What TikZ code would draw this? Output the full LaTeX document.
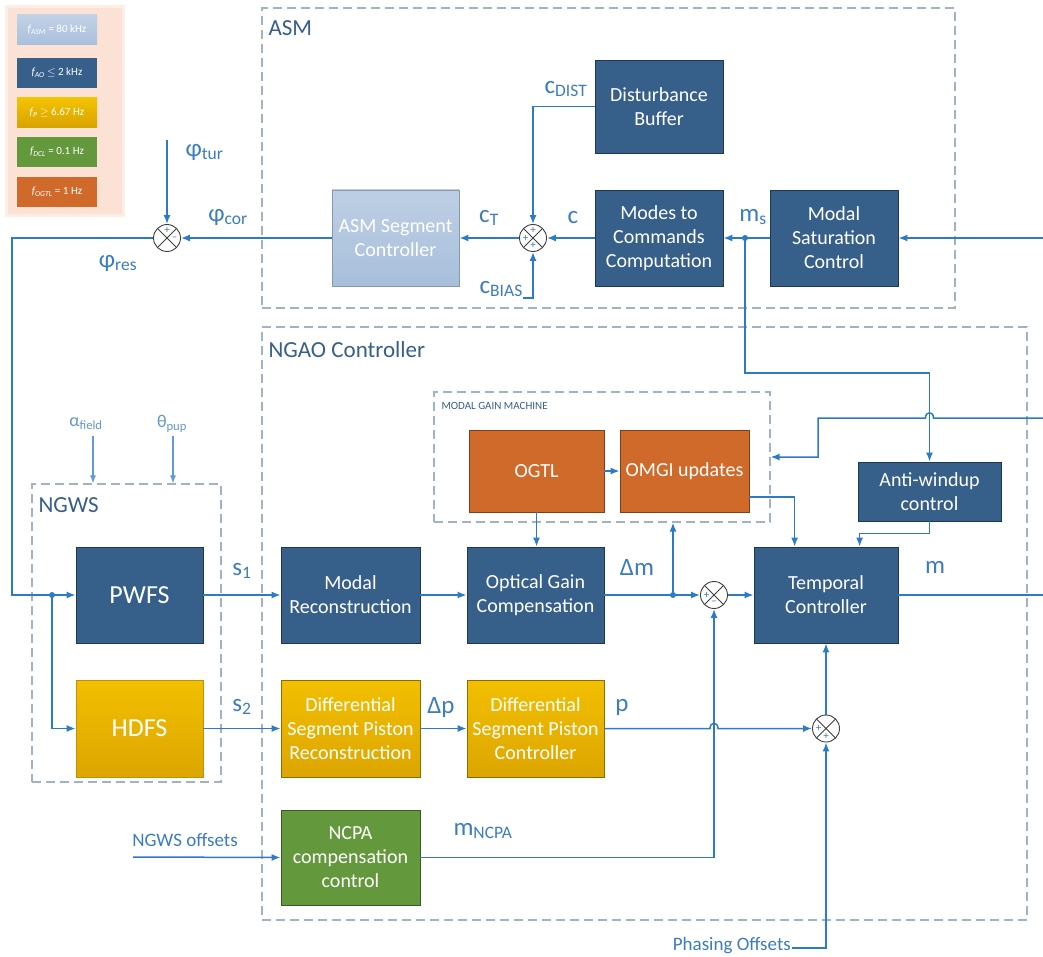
\documentclass[tikz,border=0pt]{standalone}
\usepackage{fontspec}
\setmainfont{Carlito}
\usetikzlibrary{arrows.meta,calc}
\definecolor{dblue}{RGB}{54,95,138}
\definecolor{dblueb}{RGB}{30,55,85}
\definecolor{lblue}{RGB}{168,191,219}
\definecolor{orng}{RGB}{208,106,43}
\definecolor{yell}{RGB}{240,180,0}
\definecolor{grn}{RGB}{100,152,60}
\definecolor{lineblue}{RGB}{43,123,198}
\definecolor{labblue}{RGB}{60,124,192}
\definecolor{dashgray}{RGB}{160,178,198}
\definecolor{peach}{RGB}{251,226,212}
\tikzset{
  blk/.style={draw=dblueb, line width=0.8pt, fill=#1, text=white, align=center,
    inner sep=2pt, font=\fontsize{20}{24}\selectfont},
  conn/.style={draw=lineblue, line width=1.5pt, -{Latex[length=9pt,width=7pt]}},
  wire/.style={draw=lineblue, line width=1.5pt},
  thinconn/.style={draw=lineblue!75, line width=1.1pt, -{Latex[length=8pt,width=6pt]}},
  grp/.style={draw=dashgray, line width=1.2pt, dash pattern=on 9pt off 5pt},
  grplab/.style={text=dblue, anchor=west, font=\fontsize{23}{26}\selectfont},
  lab/.style={text=labblue, font=\fontsize{25}{28}\selectfont},
  sgn/.style={text=labblue, font=\fontsize{11}{11}\selectfont, inner sep=0pt},
  sumj/.style={circle, draw=black!75, fill=white, line width=0.9pt, minimum size=27pt, inner sep=0pt,
    path picture={\draw[black!75, line width=0.9pt]
      (path picture bounding box.north west) -- (path picture bounding box.south east)
      (path picture bounding box.north east) -- (path picture bounding box.south west);}},
  dot/.style={circle, fill=lineblue, minimum size=6pt, inner sep=0pt},
  legbox/.style={draw=none, text=white, minimum width=80pt, minimum height=30pt,
    font=\fontsize{11}{12}\selectfont, inner sep=0pt}
}
\newcommand{\fsub}[1]{{\itshape f}\textsubscript{\itshape #1}}
\begin{document}
\begin{tikzpicture}[x=1pt,y=-1pt]
\useasboundingbox (0,0) rectangle (1043,957);
\fill[white] (0,0) rectangle (1043,957);

% legend
\fill[peach!60] (5,5) rectangle (125,217);
\fill[peach] (8,8) rectangle (122,214);
\node[legbox, top color=lblue!70!white, bottom color=lblue] (l1) at (57,30) {\fsub{ASM} = 80 kHz};
\node[legbox, fill=dblue] (l2) at (57,73) {\fsub{AO} $\leq$ 2 kHz};
\node[legbox, top color=yell!80!yellow, bottom color=yell!90!black] (l3) at (57,113) {\fsub{P} $\geq$ 6.67 Hz};
\node[legbox, fill=grn] (l4) at (57,152) {\fsub{DCL} = 0.1 Hz};
\node[legbox, fill=orng] (l5) at (57,192) {\fsub{OGTL} = 1 Hz};

% groups
\node[grp, minimum width=693pt, minimum height=300pt, inner sep=0pt] (asm) at (608.5,158) {};
\node[grplab] at (265,28) {ASM};
\node[grp, minimum width=765pt, minimum height=593pt, inner sep=0pt] (ngao) at (644.5,623.5) {};
\node[grplab] at (265,350) {NGAO Controller};
\node[grp, minimum width=336pt, minimum height=130pt, inner sep=0pt] (mgm) at (602,457) {};
\node[anchor=west, text=dblue, font=\fontsize{11}{12}\selectfont] at (438,406) {MODAL GAIN MACHINE};
\node[grp, minimum width=189pt, minimum height=298pt, inner sep=0pt] (ngws) at (126.5,633) {};
\node[grplab] at (35,505) {NGWS};

% blocks
\node[blk=dblue, minimum width=128pt, minimum height=93pt] (db) at (659,106.5) {Disturbance\\Buffer};
\node[blk=dblue, minimum width=128pt, minimum height=96pt] (mc) at (659,238) {Modes to\\Commands\\Computation};
\node[blk=dblue, minimum width=128pt, minimum height=96pt] (msc) at (834,238) {Modal\\Saturation\\Control};
\node[blk=lblue, draw=lblue!80!black, top color=lblue!75!white, bottom color=lblue, minimum width=127pt, minimum height=96pt] (asc) at (395.5,238) {ASM Segment\\Controller};
\node[blk=orng, draw=orng!60!black, minimum width=135pt, minimum height=82pt] (ogtl) at (536.5,471) {OGTL};
\node[blk=orng, draw=orng!60!black, minimum width=129pt, minimum height=82pt] (omgi) at (684.5,471) {OMGI updates};
\node[blk=dblue, minimum width=143pt, minimum height=59pt] (aw) at (929.5,491.5) {Anti-windup\\control};
\node[blk=dblue, minimum width=127pt, minimum height=96pt, font=\fontsize{26}{30}\selectfont] (pwfs) at (139.5,595) {PWFS};
\node[blk=yell, draw=yell!80!black, top color=yell!85!yellow, bottom color=yell!92!black, minimum width=127pt, minimum height=97pt, font=\fontsize{26}{30}\selectfont] (hdfs) at (139.5,728.5) {HDFS};
\node[blk=dblue, minimum width=139pt, minimum height=96pt] (mr) at (350.5,595) {Modal\\Reconstruction};
\node[blk=dblue, minimum width=137pt, minimum height=96pt] (ogc) at (535.5,595) {Optical Gain\\Compensation};
\node[blk=dblue, minimum width=144pt, minimum height=96pt] (tc) at (826,595) {Temporal\\Controller};
\node[blk=yell, draw=yell!60!black, top color=yell!85!yellow, bottom color=yell!92!black, minimum width=139pt, minimum height=97pt] (dspr) at (350.5,728.5) {Differential\\Segment Piston\\Reconstruction};
\node[blk=yell, draw=yell!60!black, top color=yell!85!yellow, bottom color=yell!92!black, minimum width=137pt, minimum height=97pt] (dspc) at (535.5,728.5) {Differential\\Segment Piston\\Controller};
\node[blk=grn, draw=grn!60!black, minimum width=139pt, minimum height=95pt] (ncpa) at (350.5,857.5) {NCPA\\compensation\\control};

% summing junctions
\node[sumj] (sTL) at (167,238) {};
\node[sgn] at (167,230.5) {+};
\node[sgn] at (174.5,238.5) {--};
\node[sumj] (sA) at (533,238) {};
\node[sgn] at (533,230.5) {+};
\node[sgn] at (525.5,238) {+};
\node[sgn] at (533,245.5) {+};
\node[sumj] (sM) at (714,595) {};
\node[sgn] at (706.5,595) {+};
\node[sgn] at (714,603) {--};
\node[sumj] (sB) at (826,728.5) {};
\node[sgn] at (818.5,728.5) {+};
\node[sgn] at (826,736) {+};

% coordinates
\coordinate (in1) at (1043,238);
\coordinate (in2) at (1043,418);
\coordinate (phtur) at (167,140);
\coordinate (cb) at (523,298);
\coordinate (split) at (52,595);
\coordinate (msd) at (745,238);
\coordinate (dmd) at (673,595);
\coordinate (o1) at (749,497);
\coordinate (outm) at (1043,595);
\coordinate (ngo) at (133,857);
\coordinate (pho) at (792,948);
\coordinate (af) at (93,436);
\coordinate (tp) at (173,436);

% ASM connectors
\draw[conn] (in1) -- (msc.east);
\draw[conn] (msc.west) -- (mc.east);
\node[dot] at (msd) {};
\draw[conn] (mc.west) -- (sA.east);
\draw[conn] (db.west) -| (sA.north);
\draw[conn] (cb) -| (sA.south);
\draw[conn] (sA.west) -- (asc.east);
\draw[conn] (asc.west) -- (sTL.east);
\draw[conn] (phtur) -- (sTL.north);
\draw[conn] (sTL.west) -- (12,238) |- (pwfs.west);
\node[dot] at (split) {};
\draw[conn] (split) |- (hdfs.west);

% ms to anti-windup
\draw[conn] (msd) -- (745,373) -| (aw.north);
% second input to modal gain machine (hop over)
\draw[conn] (in2) -- (933.5,418) .. controls (933.5,411) and (925.5,411) .. (925.5,418) -- (818,418) |- (mgm.east |- 0,457);

% NGAO connectors
\draw[conn] (pwfs.east) -- (mr.west);
\draw[conn] (hdfs.east) -- (dspr.west);
\draw[conn] (mr.east) -- (ogc.west);
\draw[conn] (ogtl.south) -- (ogtl.south |- ogc.north);
\draw[conn] (ogtl.east) -- (omgi.west);
\draw[conn] (ogc.east) -- (sM.west);
\node[dot] at (dmd) {};
\draw[conn] (dmd) -- (dmd |- mgm.south);
\draw[conn] (sM.east) -- (tc.west);
\draw[conn] (o1) -| ($(tc.north west)+(41,0)$);
\draw[conn] (aw.south) -- ++(0,12) -| ($(tc.north west)+(106,0)$);
\draw[wire] (tc.east) -- (outm);
\draw[conn] (dspr.east) -- (dspc.west);
\draw[conn] (dspc.east) -- (710,728.5) .. controls (710,721.5) and (718,721.5) .. (718,728.5) -- (sB.west);
\draw[conn] (ncpa.east) -| (sM.south);
\draw[conn] (sB.north) -- (tc.south);
\draw[conn] (pho) -| (sB.south);
\draw[conn] (ngo) -- (ncpa.west);
\draw[thinconn] (af) -- (af |- ngws.north);
\draw[thinconn] (tp) -- (tp |- ngws.north);

% labels
\node[lab, anchor=west] at (182,152) {φ\textsubscript{tur}};
\node[lab] at (228,217) {φ\textsubscript{cor}};
\node[lab] at (118,263) {φ\textsubscript{res}};
\node[lab] at (489,218) {c\textsubscript{T}};
\node[lab] at (573,218) {c};
\node[lab] at (566,89) {c\textsubscript{DIST}};
\node[lab, anchor=east, inner sep=0pt] at (523,289) {c\textsubscript{BIAS}};
\node[lab] at (753,217) {m\textsubscript{s}};
\node[lab] at (637,567) {Δm};
\node[lab] at (622,707) {p};
\node[lab] at (441,707) {Δp};
\node[lab] at (483,831) {m\textsubscript{NCPA}};
\node[lab] at (935,567) {m};
\node[lab] at (242,571) {s\textsubscript{1}};
\node[lab] at (242,707) {s\textsubscript{2}};
\node[lab, text=labblue!80, font=\fontsize{18}{20}\selectfont] at (86,424) {α\textsubscript{field}};
\node[lab, text=labblue!80, font=\fontsize{18}{20}\selectfont] at (172,424) {θ\textsubscript{pup}};
\node[lab, font=\fontsize{19}{20}\selectfont] at (185,840) {NGWS offsets};
\node[lab, font=\fontsize{19}{20}\selectfont, anchor=east, inner sep=1pt] at (792,946) {Phasing Offsets};
\end{tikzpicture}
\end{document}
